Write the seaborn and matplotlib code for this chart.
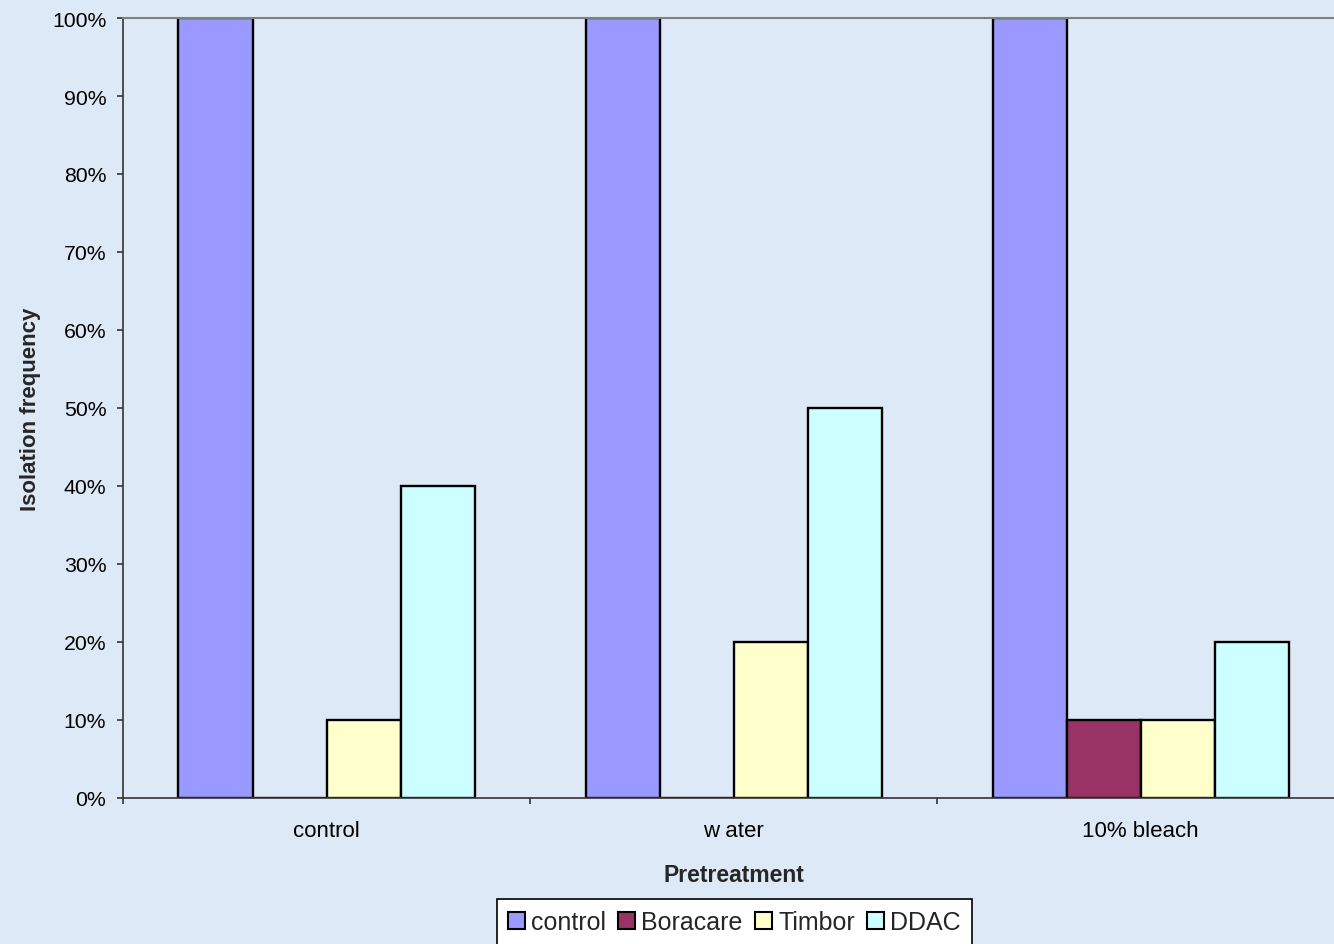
import matplotlib
matplotlib.use("Agg")
import matplotlib.pyplot as plt
from matplotlib.patches import Patch
from matplotlib.ticker import PercentFormatter, FixedLocator
import numpy as np
import pandas as pd
import seaborn as sns

# Pretreatment groups and treatment series (isolation frequency, fraction)
pretreatments = ["control", "w ater", "10% bleach"]
treatments = ["control", "Boracare", "Timbor", "DDAC"]
control_vals = [1.0, 1.0, 1.0]
boracare_vals = [0.0, 0.0, 0.1]
timbor_vals = [0.1, 0.2, 0.1]
ddac_vals = [0.4, 0.5, 0.2]

series = {
    "control": control_vals,
    "Boracare": boracare_vals,
    "Timbor": timbor_vals,
    "DDAC": ddac_vals,
}
rows = []
for t in treatments:
    for p, v in zip(pretreatments, series[t]):
        rows.append({"Pretreatment": p, "Treatment": t, "Frequency": v})
df = pd.DataFrame(rows)

colors = ["#9999FF", "#993366", "#FFFFCC", "#CCFFFF"]
bg = "#dde9f6"

sns.set_theme(style="white")
plt.rcParams["font.family"] = ["Liberation Sans", "DejaVu Sans"]

fig = plt.figure(figsize=(13.34, 9.45), dpi=100, facecolor=bg)
ax = fig.add_axes([123 / 1334, 146 / 945, 1221 / 1334, 780 / 945])
ax.set_facecolor("none")

sns.barplot(
    data=df, x="Pretreatment", y="Frequency", hue="Treatment",
    order=pretreatments, hue_order=treatments, palette=colors,
    width=296 / 407, edgecolor="black", linewidth=1.7,
    legend=False, ax=ax, errorbar=None, saturation=1,
)

ax.set_xlim(-0.5, 2.5)
ax.set_ylim(0, 1.0)
ax.yaxis.set_major_locator(FixedLocator(np.arange(0, 1.01, 0.1)))
ax.yaxis.set_major_formatter(PercentFormatter(1.0, decimals=0))

# spines
for s in ["left", "bottom"]:
    ax.spines[s].set_color("#333333")
    ax.spines[s].set_linewidth(1.2)
ax.spines["top"].set_color("#808080")
ax.spines["top"].set_linewidth(1.5)
ax.spines["right"].set_visible(False)

ax.tick_params(axis="y", which="major", direction="out", length=4.5, width=1.2,
               color="#333333", pad=7.5, labelsize=15.3, labelcolor="black", left=True)
ax.tick_params(axis="x", which="major", length=0, pad=15.5, labelsize=16,
               labelcolor="black")
ax.set_xticks(range(len(pretreatments)))
ax.set_xticklabels(pretreatments)
ax.set_xticks([-0.5, 0.5, 1.5, 2.5], minor=True)
ax.tick_params(axis="x", which="minor", direction="out", length=4.5, width=1.2,
               color="#333333", bottom=True)

ax.set_xlabel("Pretreatment", fontsize=16.5, fontweight="bold", labelpad=16)
ax.set_ylabel("Isolation frequency", fontsize=16, fontweight="bold", labelpad=8)

handles = [Patch(facecolor=c, edgecolor="black", linewidth=1.5) for c in colors]
leg = fig.legend(
    handles, treatments, loc="upper center",
    bbox_to_anchor=(734.5 / 1334, 1 - 900 / 945), ncol=4, fontsize=18,
    frameon=True, fancybox=False, shadow=False, framealpha=1,
    edgecolor="black", facecolor="white",
    handlelength=0.67, handleheight=0.67, handletextpad=0.25,
    columnspacing=0.5, borderpad=0.45, borderaxespad=0,
)
leg.get_frame().set_linewidth(1.2)

fig.savefig("out.png", dpi=100, facecolor=bg)
